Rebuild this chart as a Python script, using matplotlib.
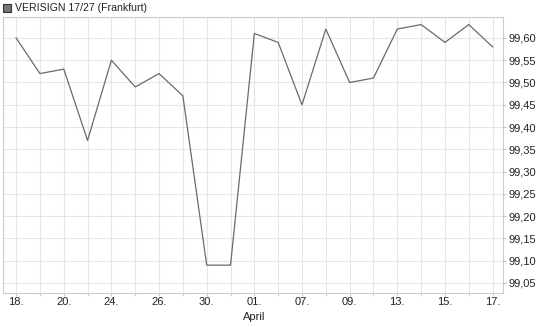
import matplotlib
matplotlib.use("Agg")
import matplotlib.pyplot as plt
from matplotlib.patches import Rectangle

plt.rcParams['font.family'] = ['Liberation Sans', 'DejaVu Sans']

# Price data (Frankfurt), one value per trading day
day_labels = ['18.', '', '20.', '', '24.', '', '26.', '', '30.', '', '01.',
              '', '07.', '', '09.', '', '13.', '', '15.', '', '17.']
prices = [99.60, 99.52, 99.53, 99.37, 99.55, 99.49, 99.52, 99.47, 99.09, 99.09,
          99.61, 99.59, 99.45, 99.62, 99.50, 99.51, 99.62, 99.63, 99.59, 99.63, 99.58]
y_ticks = [99.05, 99.10, 99.15, 99.20, 99.25, 99.30, 99.35, 99.40, 99.45, 99.50, 99.55, 99.60]
title = 'VERISIGN 17/27 (Frankfurt)'

fig = plt.figure(figsize=(5.45, 3.27), dpi=100)
ax = fig.add_axes([0.0055, 0.104, 0.918, 0.844])

x = list(range(len(prices)))
ax.plot(x, prices, color='#6a6a6a', linewidth=0.9)

ax.set_xlim(-0.55, len(prices) - 0.55)
ax.set_ylim(99.0275, 99.647)

ax.set_xticks(x)
ax.set_xticklabels(day_labels)
ax.set_yticks(y_ticks)
ax.set_yticklabels([f'{v:.2f}'.replace('.', ',') for v in y_ticks])
ax.yaxis.tick_right()

ax.grid(True, color='#e6e6e6', linewidth=0.8)
ax.set_axisbelow(True)
for s in ax.spines.values():
    s.set_color('#cccccc')
    s.set_linewidth(0.8)
ax.tick_params(axis='both', colors='#cccccc', labelcolor='#222222', labelsize=8, length=2, width=0.8)
ax.tick_params(axis='y', pad=1.5)
ax.tick_params(axis='x', pad=1)

# month label under "01."
ax.text(10, -0.068, 'April', transform=ax.get_xaxis_transform(), ha='center', va='top',
        fontsize=8, color='#222222')

# legend box in the top-left corner
fig.patches.append(Rectangle((3 / 545, 1 - 12 / 327), 8 / 545, 8 / 327, transform=fig.transFigure,
                             facecolor='#777777', edgecolor='#333333', linewidth=0.8))
fig.text(15 / 545, 1 - 8 / 327, title, ha='left', va='center', fontsize=7.6, color='#222222')

fig.savefig('out.png', dpi=100)
